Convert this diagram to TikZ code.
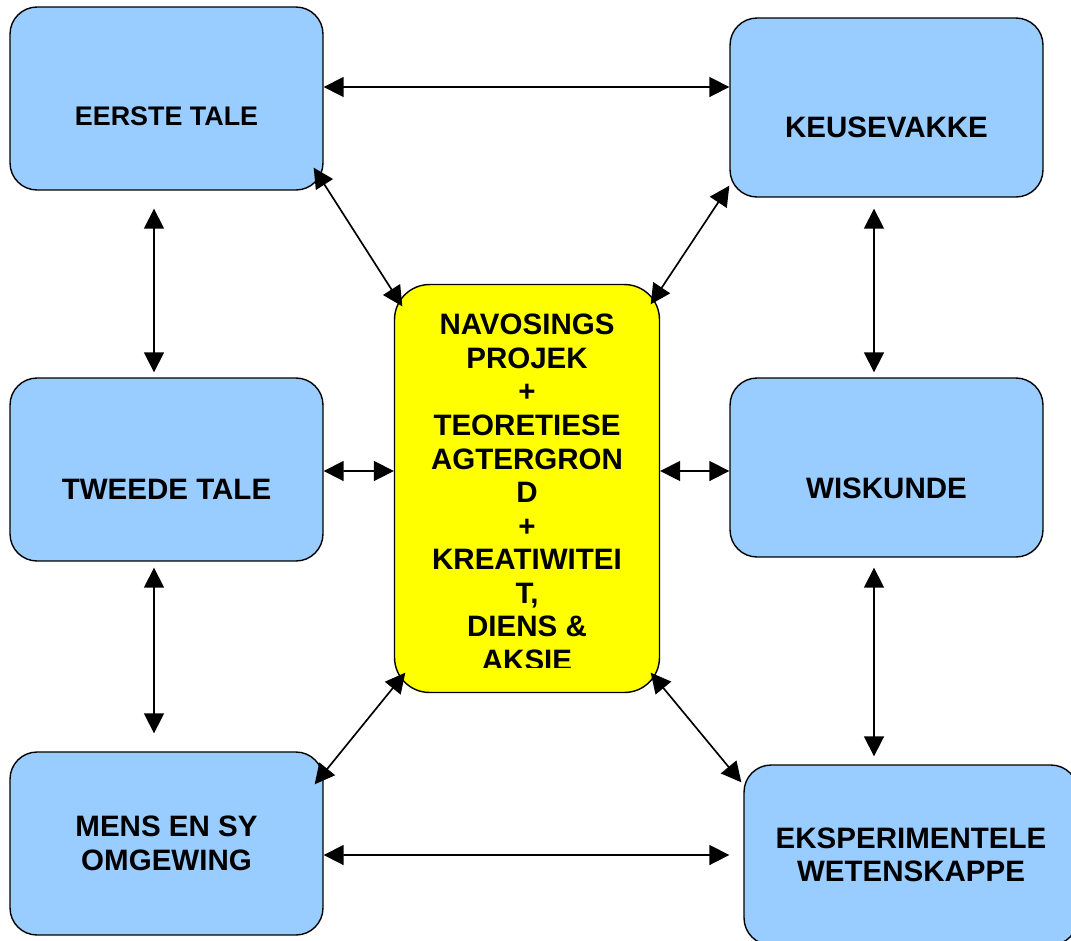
\documentclass[tikz,border=0pt]{standalone}
\usepackage{fontspec}
\setmainfont{Liberation Sans}
\usepackage{tikz}
\usetikzlibrary{arrows.meta}
\definecolor{vakblou}{HTML}{99CCFF}
\definecolor{kerngeel}{HTML}{FFFF00}
\tikzset{
  vakbox/.style  = {draw, line width=0.8pt, fill=vakblou, rounded corners=0.54cm,
                    inner sep=0pt, minimum width=6.26cm, minimum height=3.66cm},
  kernbox/.style = {draw, line width=0.8pt, fill=kerngeel, rounded corners=0.7cm,
                    inner sep=0pt, minimum width=5.3cm, minimum height=8.16cm},
  vaktext/.style = {font=\bfseries\fontsize{16.8}{19.1}\selectfont, align=center, inner sep=0pt},
  dblarr/.style  = {{Triangle[length=4mm,width=4mm]}-{Triangle[length=4mm,width=4mm]}, line width=0.95pt}
}

\begin{document}
\begin{tikzpicture}[x=0.02cm,y=-0.02cm]
  \useasboundingbox (0,0) rectangle (1071,940);
  \clip (0,0) rectangle (1071,940);
  % --- the six subject boxes
  \node[vakbox] (eerste) at (166.5,98.5) {};
  \node[vakbox,minimum height=3.58cm] (keuse) at (886.5,107.5) {};
  \node[vakbox] (tweede) at (166.5,469.5) {};
  \node[vakbox,minimum height=3.58cm] (wisk) at (886.5,467.5) {};
  \node[vakbox] (mens) at (166.5,843.5) {};
  \node[vakbox,minimum width=6.68cm,minimum height=3.6cm] (eksp) at (911,855) {};
  % --- the project in the middle
  \node[kernbox] (kern) at (527,488.5) {};

  \node[vaktext,font=\bfseries\fontsize{15.3}{19.1}\selectfont] (eerstetxt)
       at ([shift={(0,17.5)}]eerste.center) {EERSTE TALE};
  \node[vaktext] (keusetxt) at ([shift={(0,20)}]keuse.center) {KEUSEVAKKE};
  \node[vaktext] (tweedetxt) at ([shift={(0,19.5)}]tweede.center) {TWEEDE TALE};
  \node[vaktext] (wisktxt) at ([shift={(0,20.5)}]wisk.center) {WISKUNDE};
  \node[vaktext] (menstxt) at (mens.center) {MENS EN SY\\OMGEWING};
  \node[vaktext] (eksptxt) at (eksp.center) {EKSPERIMENTELE\\WETENSKAPPE};
  % text runs past the bottom of the box, so cut it off
  \begin{scope}
    \clip (kern.north west) rectangle ([shift={(0,-25.5)}]kern.south east);
    \node[vaktext] (kerntxt) at ([shift={(0,4)}]kern.center)
         {NAVOSINGS\\PROJEK\\+\\TEORETIESE\\AGTERGRON\\D\\+\\KREATIWITEI\\T,\\DIENS \&\\AKSIE};
  \end{scope}

  % --- links round the outside
  \draw[dblarr] ([shift={(0,-11.5)}]eerste.east) -- ([shift={(0,-20.5)}]keuse.west);
  \draw[dblarr] ([shift={(0,11.5)}]mens.east) -- ([shift={(-14,0)}]eksp.west);
  \draw[dblarr] ([shift={(-12.5,18)}]eerste.south) -- ([shift={(-12.5,-5)}]tweede.north);
  \draw[dblarr] ([shift={(-12.5,6)}]tweede.south) -- ([shift={(-12.5,-18)}]mens.north);
  \draw[dblarr] ([shift={(-12.5,11)}]keuse.south) -- ([shift={(-12.5,-5)}]wisk.north);
  \draw[dblarr] ([shift={(-12.5,10)}]wisk.south) -- ([shift={(-37,-8)}]eksp.north);
  % --- links to the middle
  \draw[dblarr] ([shift={(-10,-23)}]eerste.south east) -- ([shift={(8.5,22.5)}]kern.north west);
  \draw[dblarr] ([shift={(0,-12)}]keuse.south west) -- ([shift={(-9.5,20.5)}]kern.north east);
  \draw[dblarr] ([shift={(0,1.5)}]tweede.east) -- ([shift={(0,-17.5)}]kern.west);
  \draw[dblarr] ([shift={(0,-17.5)}]kern.east) -- ([shift={(0,3.5)}]wisk.west);
  \draw[dblarr] ([shift={(11.5,-20.5)}]kern.south west) -- ([shift={(-9,33)}]mens.north east);
  \draw[dblarr] ([shift={(-9.5,-20.5)}]kern.south east) -- ([shift={(-2,18)}]eksp.north west);
\end{tikzpicture}
\end{document}
